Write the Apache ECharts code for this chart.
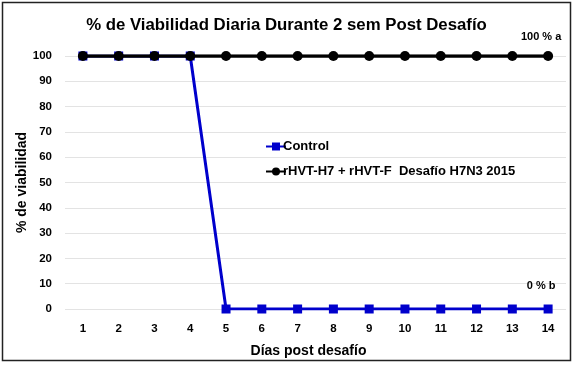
<!DOCTYPE html>
<html><head><meta charset="utf-8">
<script src="https://cdn.jsdelivr.net/npm/echarts@6/dist/echarts.min.js"></script>
<style>html,body{margin:0;padding:0;background:#fff}#c{width:573px;height:365px}</style>
</head><body><div id="c"></div>
<script>
var days = ['1','2','3','4','5','6','7','8','9','10','11','12','13','14'];
var control = [100,100,100,100,0,0,0,0,0,0,0,0,0,0];
var vaccine = [100,100,100,100,100,100,100,100,100,100,100,100,100,100];
var seriesNames = ['Control','rHVT-H7 + rHVT-F  Desafío H7N3 2015'];
var endLabels = ['0 % b','100 % a'];
var yTicks = [0,10,20,30,40,50,60,70,80,90,100];

var chart = echarts.init(document.getElementById('c'), null, {renderer:'canvas'});
var font = 'Liberation Sans, Arial, sans-serif';
function withEndLabel(arr, label, offY) {
  return arr.map(function(v, i){
    if (i === arr.length - 1) {
      return {value: v, label: {show: true, formatter: label, position: 'top', offset: [-7, offY],
        color: '#000', fontWeight: 'bold', fontSize: 11, fontFamily: font}};
    }
    return v;
  });
}
chart.setOption({
  backgroundColor: '#fff',
  animation: false,
  title: {text: '% de Viabilidad Diaria Durante 2 sem Post Desafío', left: 'center', top: 12,
    textStyle: {fontSize: 16.8, fontWeight: 'bold', color: '#000', fontFamily: font}},
  grid: {left: 65, right: 7, top: 56, bottom: 56},
  legend: {orient: 'vertical', left: 260, top: 135, itemGap: 12, itemWidth: 20, itemHeight: 10,
    data: seriesNames,
    textStyle: {fontSize: 13, fontWeight: 'bold', color: '#000', fontFamily: font, padding: [0, 0, 0, -8]}},
  xAxis: {type: 'category', data: days, boundaryGap: true,
    name: 'Días post desafío', nameLocation: 'middle', nameGap: 35, nameMoveOverlap: false,
    nameTextStyle: {fontSize: 14, fontWeight: 'bold', color: '#000', fontFamily: font, padding: [0, 14, 0, 0]},
    axisLine: {show: false}, axisTick: {show: false},
    axisLabel: {fontSize: 11.5, fontWeight: 'bold', color: '#000', margin: 14, fontFamily: font}},
  yAxis: {type: 'value', min: yTicks[0], max: yTicks[yTicks.length-1], interval: 10,
    name: '% de viabilidad', nameLocation: 'middle', nameGap: 36, nameMoveOverlap: false,
    nameTextStyle: {fontSize: 14, fontWeight: 'bold', color: '#000', fontFamily: font},
    axisLine: {show: false}, axisTick: {show: false},
    axisLabel: {fontSize: 11.5, fontWeight: 'bold', color: '#000', margin: 13, fontFamily: font},
    splitLine: {lineStyle: {color: '#e3e3e3', width: 1}}},
  series: [
    {name: seriesNames[0], type: 'line', data: withEndLabel(control, endLabels[0], -8),
     symbol: 'rect', symbolSize: 9, z: 2,
     itemStyle: {color: '#0000cc'}, lineStyle: {color: '#0000cc', width: 3}},
    {name: seriesNames[1], type: 'line', data: withEndLabel(vaccine, endLabels[1], -4),
     symbol: 'circle', symbolSize: 10, z: 3,
     itemStyle: {color: '#000'}, lineStyle: {color: '#000', width: 3.5}}
  ],
  graphic: [
    {type: 'rect', shape: {x: 2.5, y: 2.5, width: 568, height: 358},
     style: {fill: null, stroke: '#222', lineWidth: 1.5}, silent: true, z: 100}
  ]
});
</script></body></html>
